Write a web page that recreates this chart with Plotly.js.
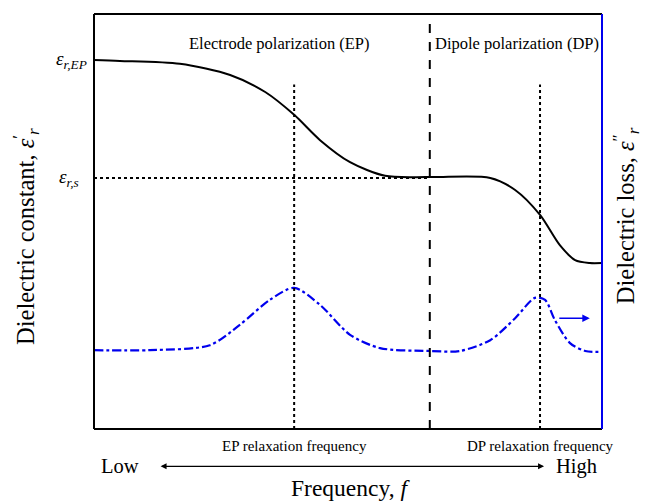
<!DOCTYPE html>
<html>
<head>
<meta charset="utf-8">
<script src="https://cdn.plot.ly/plotly-3.0.1.min.js"></script>
<style>html,body{margin:0;padding:0;background:#fff;}</style>
</head>
<body>
<div id="chart" style="width:647px;height:501px;"></div>
<script>
// Normalised frequency axis (0 = low, 100 = high) and normalised response (0..100)
const constX = [0, 5.1, 16.9, 26.8, 33.7, 39.4, 44.5, 50.4, 57.3, 66.1, 78.0, 82.9, 87.8, 91.7, 94.7, 97.6, 100];
const constY = [88.9, 88.7, 88.0, 85.3, 81.2, 75.7, 69.6, 64.3, 61.0, 60.7, 60.5, 57.6, 51.6, 44.3, 40.7, 40.0, 40.0];
const lossX = [0, 11.0, 22.8, 28.7, 34.6, 39.4, 44.5, 50.4, 56.3, 66.1, 72.0, 78.0, 82.9, 86.8, 88.8, 90.7, 93.7, 96.7, 100];
const lossY = [19.0, 19.0, 20.2, 25.1, 31.1, 34.0, 29.9, 22.7, 19.5, 18.8, 18.8, 21.4, 26.7, 31.6, 31.1, 26.3, 20.7, 18.8, 18.6];
const epRelaxX = 39.4;
const dpRelaxX = 87.8;
const boundaryX = 66.1;
const epsS = 60.5;
const epsEP = 88.9;

const serif = "Liberation Serif, Times New Roman, serif";

const traces = [
  {x: constX, y: constY, mode: 'lines', line: {color: '#000', width: 2, shape: 'spline', smoothing: 0.8}, hoverinfo: 'skip'},
  {x: lossX, y: lossY, mode: 'lines', line: {color: '#0000ee', width: 2.2, dash: 'dashdot', shape: 'spline', smoothing: 0.8}, hoverinfo: 'skip'}
];

const shapes = [
  {type: 'line', xref: 'paper', yref: 'paper', x0: 0, x1: 0, y0: 0, y1: 1, line: {color: '#000', width: 2}},
  {type: 'line', xref: 'paper', yref: 'paper', x0: 0, x1: 1, y0: 1, y1: 1, line: {color: '#000', width: 2}},
  {type: 'line', xref: 'paper', yref: 'paper', x0: 0, x1: 1, y0: 0, y1: 0, line: {color: '#000', width: 2}},
  {type: 'line', xref: 'paper', yref: 'paper', x0: 1, x1: 1, y0: 0, y1: 1, line: {color: '#0000ee', width: 2}},
  {type: 'line', x0: boundaryX, x1: boundaryX, yref: 'paper', y0: 0, y1: 1, line: {color: '#000', width: 2, dash: 'dash'}},
  {type: 'line', x0: epRelaxX, x1: epRelaxX, y0: 0, y1: 83, line: {color: '#000', width: 2, dash: 'dot'}},
  {type: 'line', x0: dpRelaxX, x1: dpRelaxX, y0: 0, y1: 83, line: {color: '#000', width: 2, dash: 'dot'}},
  {type: 'line', x0: 0, x1: boundaryX, y0: epsS, y1: epsS, line: {color: '#000', width: 2, dash: 'dot'}}
];

const C = {xanchor: 'center', yanchor: 'middle', showarrow: false};
const annotations = [
  Object.assign({x: 36.6, y: 93, text: 'Electrode polarization (EP)', font: {family: serif, size: 16.5, color: '#000'}}, C),
  Object.assign({x: 83.3, y: 93, text: 'Dipole polarization (DP)', font: {family: serif, size: 16.5, color: '#000'}}, C),
  {xref: 'paper', x: 0, xanchor: 'right', yanchor: 'middle', xshift: -5, y: epsEP, text: '<i>ε</i><sub><i>r,EP</i></sub>', showarrow: false, font: {family: serif, size: 19, color: '#000'}},
  {xref: 'paper', x: 0, xanchor: 'right', yanchor: 'middle', xshift: -13, y: epsS, text: '<i>ε</i><sub><i>r,s</i></sub>', showarrow: false, font: {family: serif, size: 19, color: '#000'}},
  Object.assign({x: epRelaxX, yref: 'paper', y: -0.04, text: 'EP relaxation frequency', font: {family: serif, size: 15, color: '#000'}}, C),
  Object.assign({x: dpRelaxX, yref: 'paper', y: -0.04, text: 'DP relaxation frequency', font: {family: serif, size: 15, color: '#000'}}, C),
  Object.assign({xref: 'paper', x: 0.051, yref: 'paper', y: -0.09, text: 'Low', font: {family: serif, size: 20.5, color: '#000'}}, C),
  Object.assign({xref: 'paper', x: 0.949, yref: 'paper', y: -0.09, text: 'High', font: {family: serif, size: 20.5, color: '#000'}}, C),
  {xref: 'paper', x: 0.886, yref: 'paper', y: -0.09, ax: -385, ay: 0, text: '', showarrow: true, arrowhead: 2, arrowside: 'end+start', arrowsize: 1, arrowwidth: 1.2, arrowcolor: '#000'},
  Object.assign({xref: 'paper', x: 0.504, yref: 'paper', y: -0.142, text: 'Frequency, <i>f</i>', font: {family: serif, size: 23.5, color: '#000'}}, C),
  Object.assign({xref: 'paper', x: -0.134, yref: 'paper', y: 0.465, textangle: -90, text: 'Dielectric constant, <i>ε</i><sup>′</sup><sub><i>r</i></sub>', font: {family: serif, size: 24.5, color: '#000'}}, C),
  Object.assign({xref: 'paper', x: 1.047, yref: 'paper', y: 0.515, textangle: -90, text: 'Dielectric loss, <i>ε</i><sup>″</sup><sub><i>r</i></sub>', font: {family: serif, size: 24.5, color: '#000'}}, C),
  {x: 97.6, y: 26.7, ax: 91.3, ay: 26.7, axref: 'x', ayref: 'y', text: '', showarrow: true, arrowhead: 2, arrowsize: 1, arrowwidth: 1.5, arrowcolor: '#0000ee'}
];

const layout = {
  width: 647, height: 501,
  margin: {l: 94, r: 45, t: 14, b: 72},
  paper_bgcolor: '#fff', plot_bgcolor: '#fff',
  showlegend: false,
  xaxis: {range: [0, 100], showgrid: false, zeroline: false, showticklabels: false, ticks: '', showline: false, fixedrange: true},
  yaxis: {range: [0, 100], showgrid: false, zeroline: false, showticklabels: false, ticks: '', showline: false, fixedrange: true},
  shapes: shapes,
  annotations: annotations
};

Plotly.newPlot('chart', traces, layout, {staticPlot: true, displayModeBar: false});
</script>
</body>
</html>
